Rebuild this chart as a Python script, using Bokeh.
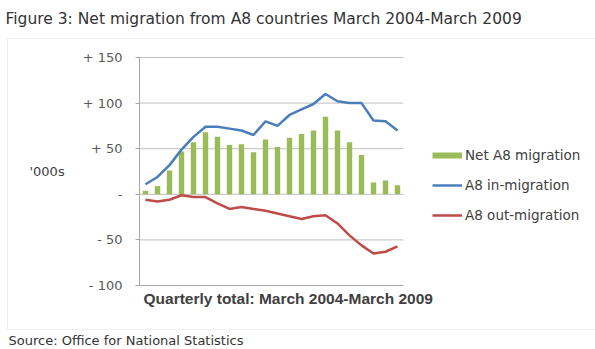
import numpy as np
from bokeh.plotting import figure
from bokeh.models import (Range1d, FixedTicker, Legend, LegendItem, ColumnDataSource,
                          Label, BoxAnnotation)
from bokeh.embed import file_html
from bokeh.resources import INLINE

# ---- data (thousands) ----
quarters = ["Dec 2003", "Mar 2004", "Jun 2004", "Sep 2004", "Dec 2004",
            "Mar 2005", "Jun 2005", "Sep 2005", "Dec 2005",
            "Mar 2006", "Jun 2006", "Sep 2006", "Dec 2006",
            "Mar 2007", "Jun 2007", "Sep 2007", "Dec 2007",
            "Mar 2008", "Jun 2008", "Sep 2008", "Dec 2008", "Mar 2009"]
net_migration = [4, 9, 26, 47, 57, 68, 63, 54, 55, 46, 60, 52, 62, 66, 70, 85,
                 70, 57, 43, 13, 15, 10]
in_migration = [11, 19, 32, 49, 63, 74, 74, 72, 70, 65, 80, 75, 87, 93, 99, 110,
                102, 100, 100, 81, 80, 70]
out_migration = [-6, -8, -6, -1, -3, -3, -10, -16, -14, -16, -18, -21, -24, -27,
                 -24, -23, -32, -45, -56, -65, -63, -57]
y_ticks = [-100, -50, 0, 50, 100, 150]
y_tick_labels = ["- 100", "- 50", "-", "+ 50", "+ 100", "+ 150"]

n = len(quarters)
source = ColumnDataSource(dict(
    x=list(range(n)), quarter=quarters,
    net=net_migration, inflow=in_migration, outflow=out_migration))
grid_src = ColumnDataSource(dict(y=y_ticks[1:]))

GREEN = "#9BBB59"
BLUE = "#4A7EBB"
RED = "#BE4B48"
TEXT = "#404040"
AXIS = "#A6A6A6"

# ---- layout: the frame covers the whole canvas; the plotting area sits inside ----
W, H = 595, 349
PL, PR, PT, PB = 139, 403, 57, 285          # plotting area in pixels
ymin, ymax = y_ticks[0], y_ticks[-1]
sx = (PR - PL) / n
sy = (PB - PT) / (ymax - ymin)
x0 = -0.5 - PL / sx
x1 = -0.5 + (W - PL) / sx
y1 = ymax + PT / sy
y0 = ymin - (H - PB) / sy


def dx(px):
    return x0 + px / sx


def dy(py):
    return y1 - py / sy


p = figure(width=W, height=H, x_range=Range1d(x0, x1), y_range=Range1d(y0, y1),
           output_backend="svg", toolbar_location=None, min_border=0)
p.outline_line_color = None
p.background_fill_color = "white"
p.border_fill_color = "white"
p.xgrid.visible = False
p.ygrid.visible = False

# x axis: plain line along the -100 level
p.xaxis.fixed_location = ymin
p.xaxis.bounds = (-0.5, n - 0.5)
p.xaxis.ticker = FixedTicker(ticks=[])
p.xaxis.major_tick_line_color = None
p.xaxis.minor_tick_line_color = None
p.xaxis.major_label_standoff = 0
p.xaxis.axis_line_color = AXIS

# y axis
p.yaxis.fixed_location = -0.5
p.yaxis.bounds = (ymin, ymax)
p.yaxis.ticker = FixedTicker(ticks=y_ticks)
p.yaxis.major_label_overrides = dict(zip(y_ticks, y_tick_labels))
p.yaxis.major_tick_out = 4
p.yaxis.major_tick_in = 0
p.yaxis.minor_tick_line_color = None
p.yaxis.axis_line_color = AXIS
p.yaxis.major_tick_line_color = AXIS
p.yaxis.major_label_standoff = 13
p.yaxis.major_label_text_font = "DejaVu Sans"
p.yaxis.major_label_text_font_size = "13px"
p.yaxis.major_label_text_color = "#595959"
p.yaxis.axis_label = "'000s"
p.yaxis.axis_label_orientation = "horizontal"
p.yaxis.axis_label_standoff = 15
p.yaxis.axis_label_text_font = "DejaVu Sans"
p.yaxis.axis_label_text_font_style = "normal"
p.yaxis.axis_label_text_font_size = "13px"
p.yaxis.axis_label_text_color = TEXT

# horizontal gridlines across the plotting area
p.segment(x0=-0.5, x1=n - 0.5, y0="y", y1="y", source=grid_src,
          line_color="#BFBFBF", line_width=1)

p.vbar(x="x", top="net", bottom=0, width=0.45, source=source,
       fill_color=GREEN, line_color=None)
l_in = p.line(x="x", y="inflow", source=source, line_color=BLUE, line_width=2.5)
l_out = p.line(x="x", y="outflow", source=source, line_color=RED, line_width=2.5)
# legend key for the bars: a thick bar-coloured line with no visible points
net_key = p.line(x=np.array([np.nan]), y=np.array([np.nan]),
                 line_color=GREEN, line_width=6)

legend = Legend(items=[LegendItem(label="Net A8 migration", renderers=[net_key]),
                       LegendItem(label="A8 in-migration", renderers=[l_in]),
                       LegendItem(label="A8 out-migration", renderers=[l_out])],
                location=(432, H - 225), orientation="vertical",
                glyph_width=30, glyph_height=20, label_height=20, spacing=10,
                padding=0, margin=0, label_standoff=3,
                border_line_color=None, background_fill_alpha=0,
                label_text_font="DejaVu Sans", label_text_font_size="13.5px",
                label_text_color=TEXT)
p.add_layout(legend)

# outer box
p.add_layout(BoxAnnotation(left=dx(7), right=dx(W + 20), top=dy(38), bottom=dy(329),
                           fill_color=None, fill_alpha=0,
                           line_color="#C8C8C8", line_width=1))

p.add_layout(Label(x=dx(5), y=dy(18),
                   text="Figure 3: Net migration from A8 countries March 2004-March 2009",
                   text_baseline="middle", text_align="left",
                   text_font="DejaVu Sans", text_font_size="15.5px", text_color="#333333"))
p.add_layout(Label(x=dx(143), y=dy(298),
                   text="Quarterly total: March 2004-March 2009",
                   text_baseline="middle", text_align="left",
                   text_font="Liberation Sans", text_font_style="bold",
                   text_font_size="15.5px", text_color=TEXT))
p.add_layout(Label(x=dx(8), y=dy(340),
                   text="Source: Office for National Statistics",
                   text_baseline="middle", text_align="left",
                   text_font="DejaVu Sans", text_font_size="13px", text_color="#333333"))

open("out.html", "w").write(file_html(p, INLINE))
